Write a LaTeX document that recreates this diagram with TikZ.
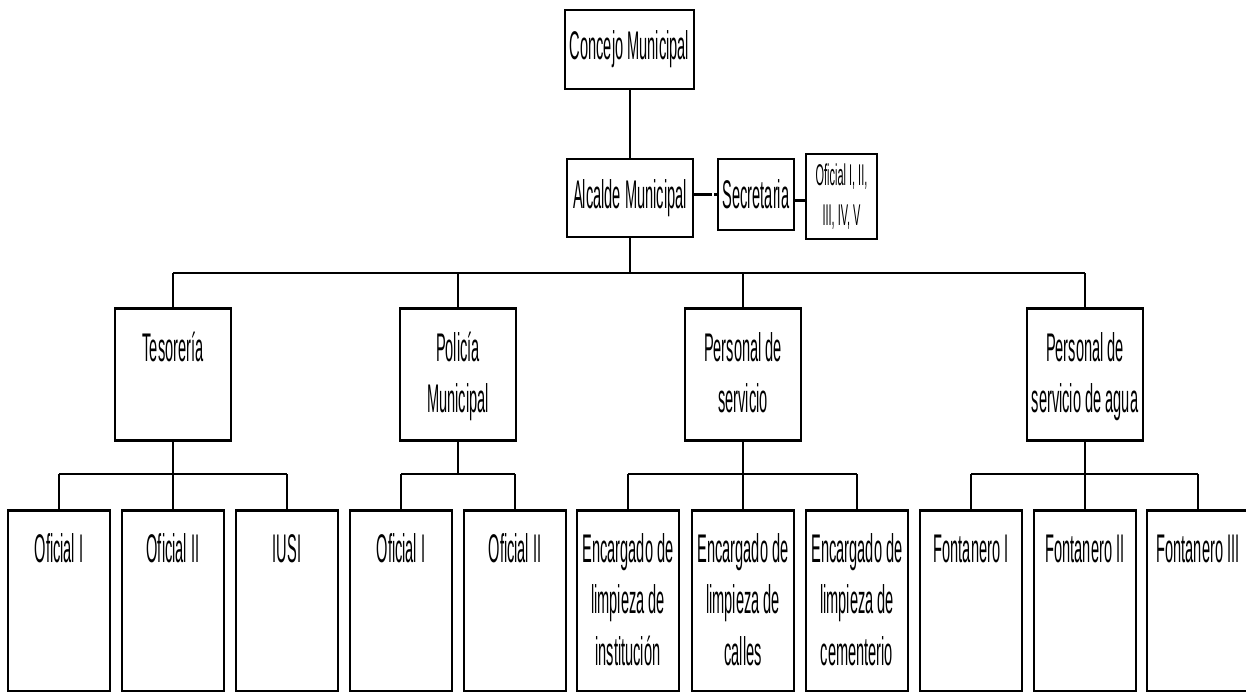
\documentclass[tikz,border=0pt]{standalone}
\usepackage{fontspec}
\newfontfamily\nar{Liberation Sans}[FakeStretch=0.365]
\usetikzlibrary{calc}
\begin{document}
\begin{tikzpicture}[x=1pt,y=-1pt,
  every node/.style={font=\nar\fontsize{40}{51.5}\selectfont},
  topbox/.style={draw, line width=2.6pt, fill=white, inner sep=0pt, align=center},
  midbox/.style={draw, line width=2.6pt, fill=white, inner sep=0pt, anchor=north,
     text width=116pt, align=flush center, text height=53pt, text depth=79pt},
  lowbox/.style={draw, line width=2.6pt, fill=white, inner sep=0pt, anchor=north,
     text width=102pt, align=flush center, text height=52pt, text depth=129pt},
  conn/.style={line width=2.6pt},
  dconn/.style={line width=2.6pt, dash pattern=on 18pt off 2pt}]
\useasboundingbox (0,0) rectangle (1246,691);
\fill[white] (0,0) rectangle (1246,691);

% top level
\node[topbox, minimum width=129pt, minimum height=79pt] (con) at (629.5,49.5) {Concejo Municipal};
\node[topbox, minimum width=126pt, minimum height=78pt] (alc) at (630,198) {Alcalde Municipal};
\node[topbox, minimum width=76pt, minimum height=71pt] (sec) at (756,194.5) {Secretaria};
\node[topbox, minimum width=71pt, minimum height=85pt, font=\nar\fontsize{30}{40}\selectfont] (ofb) at (841.5,196.5) {Oficial I, II,\\III, IV, V};

% second level
\node[midbox] (tes) at (173,307) {Tesorería};
\node[midbox] (pol) at (458,307) {Policía\\Municipal};
\node[midbox] (per) at (743,307) {Personal de\\servicio};
\node[midbox] (agu) at (1085,307) {Personal de\\servicio de agua};

% third level
\node[lowbox] (t1) at (59,509) {Oficial I};
\node[lowbox] (t2) at (173,509) {Oficial II};
\node[lowbox] (t3) at (287,509) {IUSI};
\node[lowbox] (p1) at (401,509) {Oficial I};
\node[lowbox] (p2) at (515,509) {Oficial II};
\node[lowbox] (s1) at (628,509) {Encargado de\\limpieza de\\institución};
\node[lowbox] (s2) at (743,509) {Encargado de\\limpieza de\\calles};
\node[lowbox] (s3) at (857,509) {Encargado de\\limpieza de\\cementerio};
\node[lowbox] (a1) at (971,509) {Fontanero I};
\node[lowbox] (a2) at (1085,509) {Fontanero II};
\node[lowbox] (a3) at (1198,509) {Fontanero III};

% bar levels
\coordinate (bar1) at (630,273);
\coordinate (bar2) at (0,474);

% connectors top
\draw[conn] (con.south -| alc.north) -- (alc.north);
\draw[dconn] (alc.east |- sec.west) -- (sec.west);
\draw[conn] ([yshift=-6pt]sec.east) -- ([yshift=-6pt]sec.east -| ofb.west);
\draw[conn] (alc.south) -- (bar1);
\draw[conn] (tes.north |- bar1) -- (agu.north |- bar1);
\foreach \n in {tes,pol,per,agu} \draw[conn] (\n.north) -- (\n.north |- bar1);

% group connectors
\draw[conn] (t1.north |- bar2) -- (t3.north |- bar2);
\draw[conn] (p1.north |- bar2) -- (p2.north |- bar2);
\draw[conn] (s1.north |- bar2) -- (s3.north |- bar2);
\draw[conn] (a1.north |- bar2) -- (a3.north |- bar2);
\draw[conn] (tes.south) -- (t2.north);
\draw[conn] (pol.south) -- (pol.south |- bar2);
\draw[conn] (per.south) -- (s2.north);
\draw[conn] (agu.south) -- (a2.north);
\foreach \n in {t1,t3,p1,p2,s1,s3,a1,a3} \draw[conn] (\n.north) -- (\n.north |- bar2);
\end{tikzpicture}
\end{document}
